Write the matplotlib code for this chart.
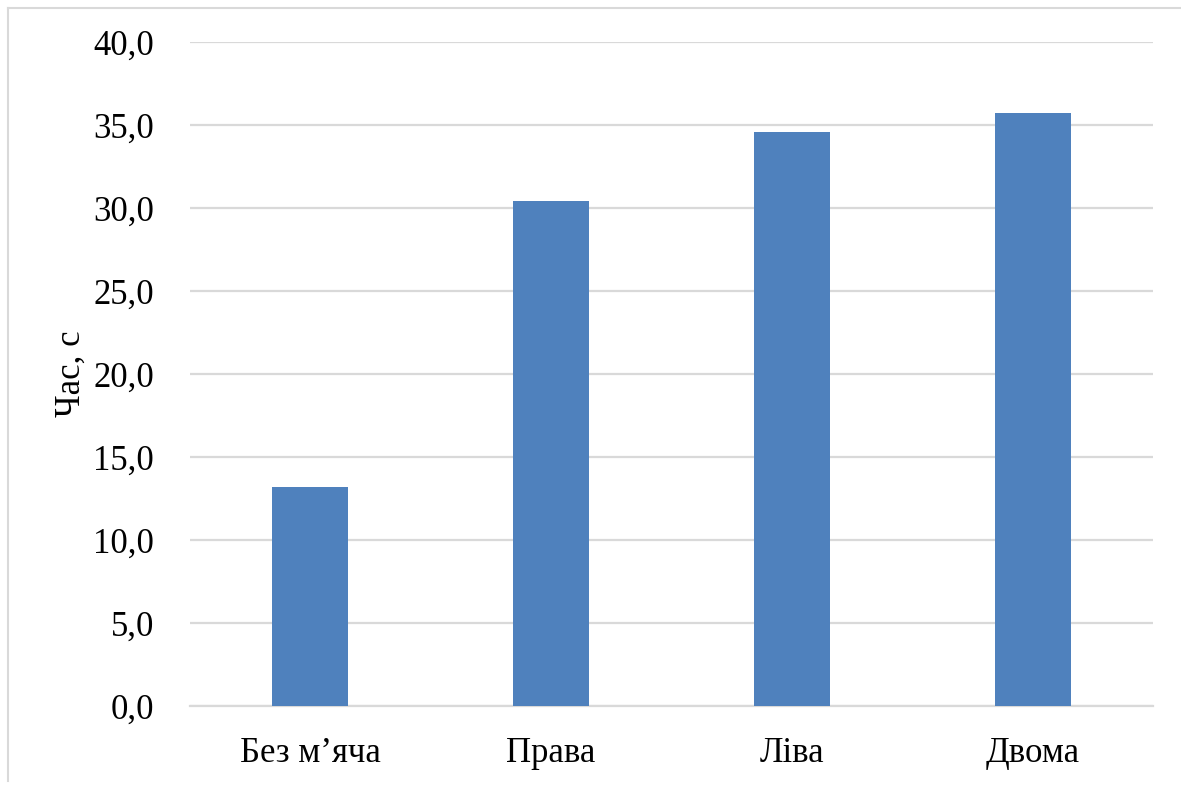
import matplotlib
matplotlib.use("Agg")
import matplotlib.pyplot as plt
from matplotlib.lines import Line2D
from matplotlib.ticker import FuncFormatter

# дані
kategorii = ["Без м’яча", "Права", "Ліва", "Двома"]
chas = [13.2, 30.4, 34.6, 35.7]

plt.rcParams['font.family'] = ['Liberation Serif', 'DejaVu Serif']

fig = plt.figure(figsize=(11.81, 7.85), dpi=100)
ax = fig.add_axes([0.1609, 0.1006, 0.8154, 0.8459])

ax.bar(range(len(kategorii)), chas, width=0.315, color='#4F81BD', zorder=3)

ax.set_xlim(-0.5, len(kategorii) - 0.5)
ax.set_ylim(0, 40)
ax.set_yticks(range(0, 41, 5))
ax.yaxis.set_major_formatter(FuncFormatter(lambda v, p: f"{v:.1f}".replace('.', ',')))
ax.set_xticks(range(len(kategorii)))
ax.set_xticklabels(kategorii)
ax.tick_params(axis='both', length=0, labelsize=25)
ax.tick_params(axis='y', pad=26)
ax.tick_params(axis='x', pad=22)

ax.grid(axis='y', color='#D9D9D9', linewidth=1.6, zorder=0)
for s in ['top', 'right', 'left']:
    ax.spines[s].set_visible(False)
ax.spines['bottom'].set_color('#D9D9D9')
ax.spines['bottom'].set_linewidth(1.6)

ax.set_ylabel("Час, с", fontsize=25, labelpad=4)

# рамка навколо діаграми
fig.add_artist(Line2D([8 / 1181, 8 / 1181], [1 - 8 / 785, 0.005], color='#D9D9D9', linewidth=1.5))
fig.add_artist(Line2D([8 / 1181, 1.0], [1 - 8 / 785, 1 - 8 / 785], color='#D9D9D9', linewidth=1.5))

fig.savefig("out.png", dpi=100)
